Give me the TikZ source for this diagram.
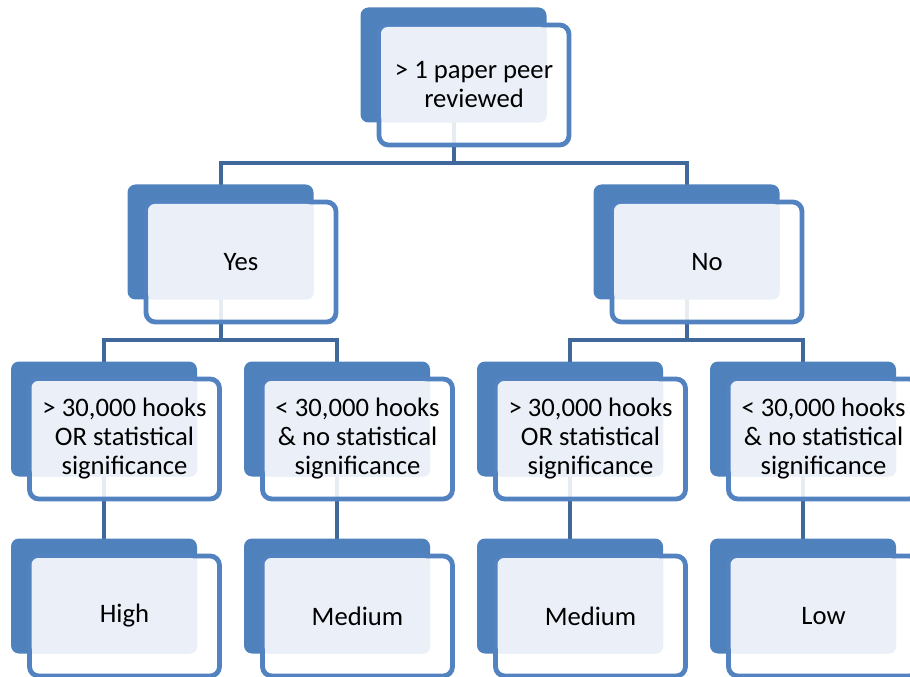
\documentclass[tikz,border=0pt]{standalone}
\usepackage{fontspec}
\setmainfont{Carlito}
\definecolor{tierblue}{HTML}{4F81BD}
\definecolor{tierframe}{HTML}{5283C0}
\definecolor{tierlink}{HTML}{40689B}
\definecolor{tierpale}{HTML}{EBF0F8}

\begin{document}
\begin{tikzpicture}[x=0.75pt, y=-0.75pt,
    back/.style={fill=tierblue, rounded corners=6pt},
    front/.style={draw=tierframe, line width=3.6pt, fill=white, fill opacity=0.88, rounded corners=7pt},
    pale/.style={fill=tierpale, rounded corners=5pt},
    label text/.style={align=center, font=\fontsize{20}{21.75}\selectfont, text=black},
    link/.style={draw=tierlink, line width=3pt}]

  \useasboundingbox (0,0) rectangle (910,677);
  \clip (0,0) rectangle (910,677);

  % box centres
  \foreach \n/\x/\y in {root/474/85, yes/241/262, no/707/262,
      crit-1/124.5/439, crit-2/357.5/439, crit-3/590.5/439, crit-4/823.5/439,
      rank-1/124.5/616, rank-2/357.5/616, rank-3/590.5/616, rank-4/823.5/616}
  {
    \coordinate (\n) at (\x,\y);
    \coordinate (\n-c) at (\x-20.5,\y-20);
    \coordinate (\n-bus) at (\x-20.5,\y+78);
  }

  % connectors
  \draw [link] (root-c) -- (root-bus) (yes-c) |- (root-bus) -| (no-c);
  \draw [link] (yes-c) -- (yes-bus) (crit-1-c) |- (yes-bus) -| (crit-2-c);
  \draw [link] (no-c) -- (no-bus) (crit-3-c) |- (no-bus) -| (crit-4-c);
  \foreach \i in {1,...,4}
    \draw [link] (crit-\i-c) -- (rank-\i-c);

  % boxes
  \foreach \n/\t in {root/{> 1 paper peer\\reviewed}, yes/Yes, no/No,
      crit-1/{> 30,000 hooks\\OR statistical\\significance},
      crit-2/{< 30,000 hooks\\\& no statistical\\significance},
      crit-3/{> 30,000 hooks\\OR statistical\\significance},
      crit-4/{< 30,000 hooks\\\& no statistical\\significance},
      rank-1/High, rank-2/Medium, rank-3/Medium, rank-4/Low}
  {
    \fill [back] ([shift={(-113.5,-77.5)}]\n) rectangle ([shift={(72.5,37.5)}]\n);
    \draw [front] ([shift={(-95,-60)}]\n) rectangle ([shift={(95,60)}]\n);
    \fill [pale] ([shift={(-93,-58)}]\n) rectangle ([shift={(72.5,37.5)}]\n);
    \node [label text] (\n-text) at (\n) {\t};
  }

\end{tikzpicture}
\end{document}
